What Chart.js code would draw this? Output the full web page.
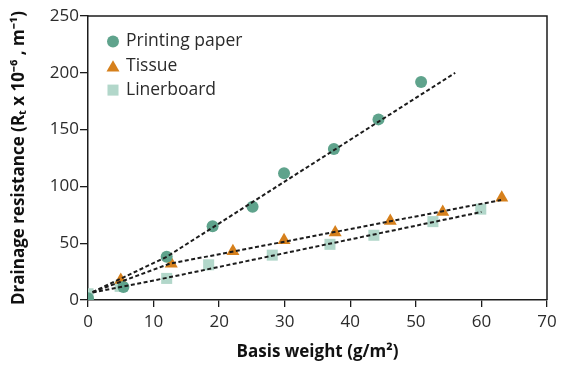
<!DOCTYPE html>
<html>
<head>
<meta charset="utf-8">
<script src="https://cdn.jsdelivr.net/npm/chart.js@4.4.0/dist/chart.umd.min.js"></script>
<style>
  html, body { margin: 0; padding: 0; background: #fff; }
  #wrap { width: 571px; height: 366px; }
</style>
</head>
<body>
<div id="wrap"><canvas id="chart"></canvas></div>
<script>
// measured points
const printingX = [0, 5.4, 12, 19, 25.1, 29.9, 37.5, 44.3, 50.8];
const printingY = [1.5, 11.5, 38, 65, 82, 111.5, 133, 159, 192];
const tissueX = [5, 12.7, 22.1, 29.9, 37.7, 46.1, 54.1, 63.1];
const tissueY = [17.5, 32, 43, 52.5, 59.5, 69.5, 77.5, 90];
const linerX = [0, 4.9, 12, 18.4, 28.1, 36.9, 43.6, 52.6, 59.9];
const linerY = [5.5, 12, 19, 31, 39.5, 49, 57, 69, 80];

// dashed fit lines
const printingFitX = [0.7, 12, 56];
const printingFitY = [7, 38, 200];
const tissueFitX = [0.7, 12.5, 63];
const tissueFitY = [7, 32, 88];
const linerFitX = [0.7, 12, 60];
const linerFitY = [6.5, 19.5, 77.5];

const xTicks = [0, 10, 20, 30, 40, 50, 60, 70];
const yTicks = [0, 50, 100, 150, 200, 250];

const green = '#5fa38c';
const orange = '#d6801c';
const pale = '#b2d7ca';
const ink = '#1c1c1c';

function pts(xs, ys) {
    return xs.map(function(x, i) { return { x: x, y: ys[i] }; });
}

function fitLine(xs, ys) {
    return {
        type: 'line',
        data: pts(xs, ys),
        borderColor: ink,
        borderWidth: 2,
        borderDash: [4, 2.5],
        pointRadius: 0,
        fill: false,
        tension: 0,
        order: 0,
        isFit: true
    };
}

function markers(label, xs, ys, color, style, r) {
    return {
        label: label,
        data: pts(xs, ys),
        pointStyle: style,
        pointRadius: r,
        pointHoverRadius: r,
        backgroundColor: color,
        borderColor: color,
        borderWidth: 0,
        order: 1
    };
}

// legend drawn inside the plot, top left
const innerLegend = {
    id: 'innerLegend',
    afterDatasetsDraw(chart) {
        const ctx = chart.ctx;
        const area = chart.chartArea;
        const items = chart.data.datasets.filter(function(d) { return !d.isFit; });
        ctx.save();
        items.forEach(function(d, i) {
            const cx = area.left + 25;
            const cy = area.top + 25.5 + i * 24.3;
            ctx.fillStyle = d.backgroundColor;
            Chart.helpers.drawPoint(ctx, {
                pointStyle: d.pointStyle,
                radius: d.pointRadius,
                rotation: 0,
                borderWidth: 0
            }, cx, d.pointStyle === 'triangle' ? cy + 2 : cy);
            ctx.fillStyle = '#2b2b2b';
            ctx.font = "17.5px 'Open Sans', sans-serif";
            ctx.textBaseline = 'middle';
            ctx.textAlign = 'left';
            ctx.fillText(d.label, area.left + 38, cy);
        });
        ctx.restore();
    }
};

// frame round the plot
const frame = {
    id: 'frame',
    afterDraw(chart) {
        const ctx = chart.ctx;
        const a = chart.chartArea;
        ctx.save();
        ctx.strokeStyle = ink;
        ctx.lineWidth = 1.5;
        ctx.beginPath();
        ctx.moveTo(a.left, a.top);
        ctx.lineTo(a.right, a.top);
        ctx.lineTo(a.right, a.bottom);
        ctx.stroke();
        ctx.restore();
    }
};

Chart.defaults.font.family = "'Open Sans', sans-serif";
Chart.defaults.color = '#2b2b2b';

new Chart(document.getElementById('chart'), {
    type: 'scatter',
    data: {
        datasets: [
            fitLine(printingFitX, printingFitY),
            fitLine(tissueFitX, tissueFitY),
            fitLine(linerFitX, linerFitY),
            markers('Printing paper', printingX, printingY, green, 'circle', 6),
            markers('Tissue', tissueX, tissueY, orange, 'triangle', 7.5),
            markers('Linerboard', linerX, linerY, pale, 'rect', 7.8)
        ]
    },
    options: {
        responsive: true,
        maintainAspectRatio: false,
        animation: false,
        layout: { padding: { top: 16, right: 24, bottom: 0, left: 0 } },
        plugins: {
            legend: { display: false },
            tooltip: { enabled: false }
        },
        scales: {
            x: {
                type: 'linear',
                min: 0,
                max: 70,
                afterFit: function(s) { s.height = 66; },
                afterBuildTicks: function(s) { s.ticks = xTicks.map(function(v) { return { value: v }; }); },
                ticks: { font: { size: 17 }, color: '#2b2b2b', padding: 5, maxRotation: 0 },
                grid: { drawOnChartArea: false, drawTicks: true, tickLength: 7, color: ink, lineWidth: 1.3 },
                border: { display: true, color: ink, width: 1.5 },
                title: {
                    display: true,
                    text: 'Basis weight (g/m²)',
                    font: { size: 17, weight: 'bold' },
                    color: '#111',
                    padding: { top: 0, bottom: 4 }
                }
            },
            y: {
                type: 'linear',
                min: 0,
                max: 250,
                afterFit: function(s) { s.width = 88; },
                afterBuildTicks: function(s) { s.ticks = yTicks.map(function(v) { return { value: v }; }); },
                ticks: { font: { size: 17 }, color: '#2b2b2b', padding: 1 },
                grid: { drawOnChartArea: false, drawTicks: true, tickLength: 8, color: ink, lineWidth: 1.3 },
                border: { display: true, color: ink, width: 1.5 },
                title: {
                    display: true,
                    text: 'Drainage resistance (Rₜ x 10⁻⁶ , m⁻¹)',
                    font: { size: 17, weight: 'bold' },
                    color: '#111',
                    padding: { top: 9, bottom: 0 }
                }
            }
        }
    },
    plugins: [innerLegend, frame]
});
</script>
</body>
</html>
